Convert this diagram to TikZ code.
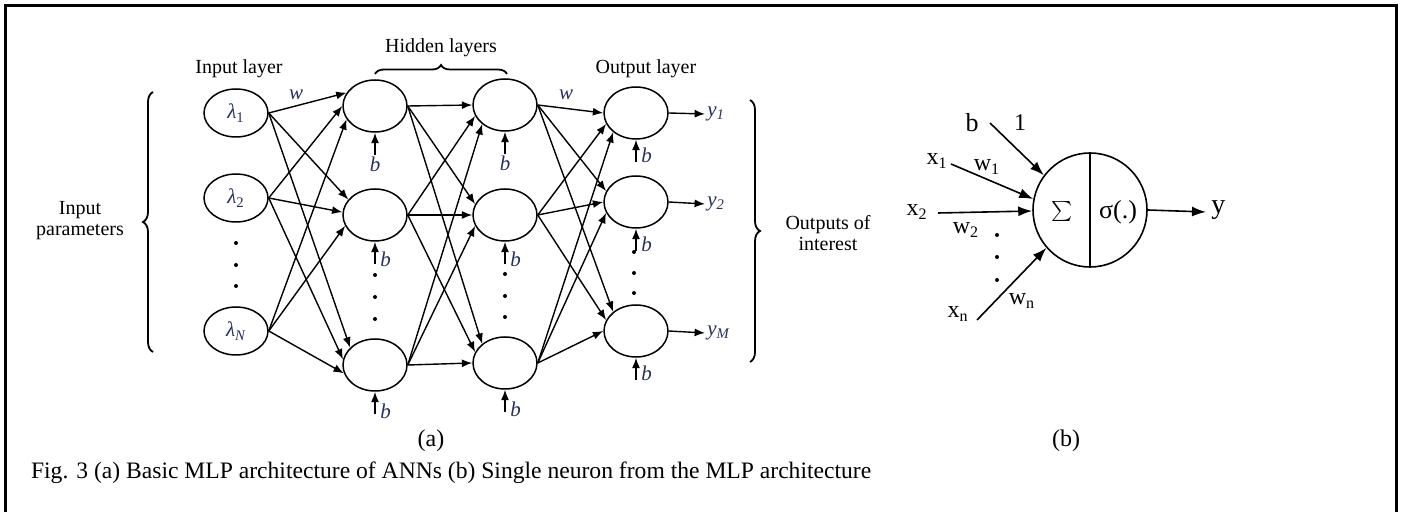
\documentclass[tikz,border=0pt]{standalone}
\usepackage{fontspec}
\setmainfont{Liberation Serif}
\usetikzlibrary{arrows.meta,shapes.geometric,decorations.pathreplacing,calc}

\definecolor{lbl}{RGB}{38,48,92}

\begin{document}
\begin{tikzpicture}[x=0.5pt,y=-0.5pt,
  neuron/.style={draw,ellipse,line width=0.75pt,minimum width=32pt,minimum height=26pt,inner sep=0pt},
  inneuron/.style={neuron,minimum height=24pt},
  arr/.style={-{Latex[length=5.2pt,width=4pt]},line width=0.7pt},
  barr/.style={-{Latex[length=7pt,width=5pt]},line width=0.8pt},
  lay/.style={font=\fontsize{10}{10.5}\selectfont,align=center},
  ital/.style={font=\fontsize{10.5}{12}\selectfont\itshape,text=lbl,inner sep=0pt},
  dot/.style={circle,fill,inner sep=0pt,minimum size=2pt},
  brc/.style={decorate,line width=0.9pt},
  big/.style={font=\fontsize{12}{14}\selectfont},
  bl/.style={font=\fontsize{12}{13}\selectfont,inner sep=0pt},
]
\useasboundingbox (0,0) rectangle (1406,512);

% outer frame
\draw[line width=1.5pt] (5,512) -- (5,6) -- (1396,6) -- (1396,512);

% ---------------- (a) MLP ----------------
% input layer
\node[inneuron] (I1) at (236,113) {};
\node[inneuron] (I2) at (236,198) {};
\node[inneuron] (I3) at (236,331) {};
\node[ital] at (I1) {λ\textsubscript{\upshape 1}};
\node[ital] at (I2) {λ\textsubscript{\upshape 2}};
\node[ital] at (I3) {λ\textsubscript{\itshape N}};

% hidden layers
\node[neuron] (A1) at (375,106) {};
\node[neuron] (A2) at (375,215) {};
\node[neuron] (A3) at (375,365) {};
\node[neuron] (B1) at (505,105) {};
\node[neuron] (B2) at (505,215) {};
\node[neuron] (B3) at (505,363) {};

% output layer
\node[neuron] (O1) at (636,113) {};
\node[neuron] (O2) at (636,202) {};
\node[neuron] (O3) at (636,331) {};

% fully connected weights
\foreach \s in {1,2,3}{
  \foreach \t in {1,2,3}{
    \pgfmathtruncatemacro\angin{180+25*(\s-2)-5*(\t-1)}
    \pgfmathtruncatemacro\ang{180+20*(\s-\t)}
    \draw[arr] (I\s.east) -- (A\t.\angin);
    \draw[arr] (A\s.east) -- (B\t.\ang);
    \draw[arr] (B\s.east) -- (O\t.\ang);
  }
}

% weight labels
\node[ital] (w1) at (296,95) {w};
\node[ital] (w2) at (566,95) {w};

% biases
\foreach \n in {A1,A2,A3,B1,B2,B3,O1,O2,O3}{
  \coordinate (t\n) at ([yshift=-11pt]\n.south);
  \draw[arr] (t\n) -- (\n.south);
}
\node[ital,anchor=north] (bA1) at ([yshift=-1pt]tA1) {b};
\node[ital,anchor=north] (bB1) at ([yshift=-1pt]tB1) {b};
\node[ital,anchor=west] (bA2) at ([xshift=2.5pt,yshift=2pt]tA2) {b};
\node[ital,anchor=west] (bA3) at ([xshift=2.5pt,yshift=1pt]tA3) {b};
\node[ital,anchor=west] (bB2) at ([xshift=2.5pt,yshift=2pt]tB2) {b};
\node[ital,anchor=west] (bB3) at ([xshift=2.5pt,yshift=1pt]tB3) {b};
\node[ital,anchor=west] (bO1) at ([xshift=2.5pt,yshift=3pt]tO1) {b};
\node[ital,anchor=west] (bO2) at ([xshift=2.5pt,yshift=3pt]tO2) {b};
\node[ital,anchor=west] (bO3) at ([xshift=2.5pt,yshift=3pt]tO3) {b};

% ellipsis dots
\foreach \y in {243,265,286} \node[dot] at (236,\y) {};
\foreach \y in {275,297,319} \node[dot] at (375,\y) {};
\foreach \y in {274,296,317} \node[dot] at (505,\y) {};
\foreach \y in {252,273,293} \node[dot] at (634,\y) {};

% outputs
\node[ital,anchor=west,inner sep=1pt] (y1) at (705,114) {y\textsubscript{1}};
\node[ital,anchor=west,inner sep=1pt] (y2) at (705,204) {y\textsubscript{2}};
\node[ital,anchor=west,inner sep=1pt] (yM) at (705,333) {y\textsubscript{M}};
\draw[arr] (O1.east) -- (y1.west);
\draw[arr] (O2.east) -- (y2.west);
\draw[arr] (O3.east) -- (yM.west);

% layer titles and braces
\node[lay] (tin) at (239,69) {Input layer};
\node[lay] (thid) at (441,48) {Hidden layers};
\node[lay] (tout) at (646,69) {Output layer};
\draw[brc,decoration={brace,amplitude=4.5pt}] (375,74) -- (507,74);
\draw[brc,decoration={brace,amplitude=5pt}] (153,352) -- (153,92);
\draw[brc,decoration={brace,amplitude=5pt}] (750,100) -- (750,362);
\node[lay] (tpar) at (80,221) {Input\\parameters};
\node[lay] (tint) at (828,233) {Outputs of\\interest};

% ---------------- (b) single neuron ----------------
\node[draw,circle,line width=0.8pt,minimum size=57pt,inner sep=0pt] (N) at (1090,210) {};
\draw[line width=0.8pt] (N.north) -- (N.south);
\node[font=\fontsize{17}{18}\selectfont] (sig) at (1062,212) {$\textstyle\sum$};
\node[font=\fontsize{13}{14}\selectfont,inner sep=0pt] (act) at (1118,212) {σ(.)};
\node[font=\fontsize{14}{15}\selectfont,inner sep=0pt,anchor=west] (yo) at (1211,210) {y};
\draw[barr] (N.east) -- (1206,212);

\node[font=\fontsize{13}{14}\selectfont,inner sep=0pt] (bb) at (972,123) {b};
\node[bl] (one) at (1020,123) {1};
\coordinate (bs) at (990,123);
\draw[barr] (bs) -- (N.143);

\node[bl] (x1) at (937,161) {x\textsubscript{1}};
\node[bl] (w1b) at (987,167) {w\textsubscript{1}};
\coordinate (x1s) at (951,164);
\draw[barr] (x1s) -- (N.169);

\node[bl] (x2) at (917,212) {x\textsubscript{2}};
\node[bl] (w2b) at (966,230) {w\textsubscript{2}};
\coordinate (x2s) at (938,213);
\draw[barr] (x2s) -- (N.181);

\foreach \y in {235,257,280} \node[dot] at (997,\y) {};

\node[bl] (xn) at (958,314) {x\textsubscript{n}};
\node[bl] (wnb) at (1022,301) {w\textsubscript{n}};
\coordinate (xns) at (977,320);
\draw[barr] (xns) -- (N.221);

% sub-figure labels and caption
\node[big] (la) at (431,441) {(a)};
\node[big] (lb) at (1066,441) {(b)};
\node[font=\fontsize{11.8}{14}\selectfont,anchor=west] (cap) at (24,473) {Fig. 3 (a) Basic MLP architecture of ANNs (b) Single neuron from the MLP architecture};
\end{tikzpicture}
\end{document}
